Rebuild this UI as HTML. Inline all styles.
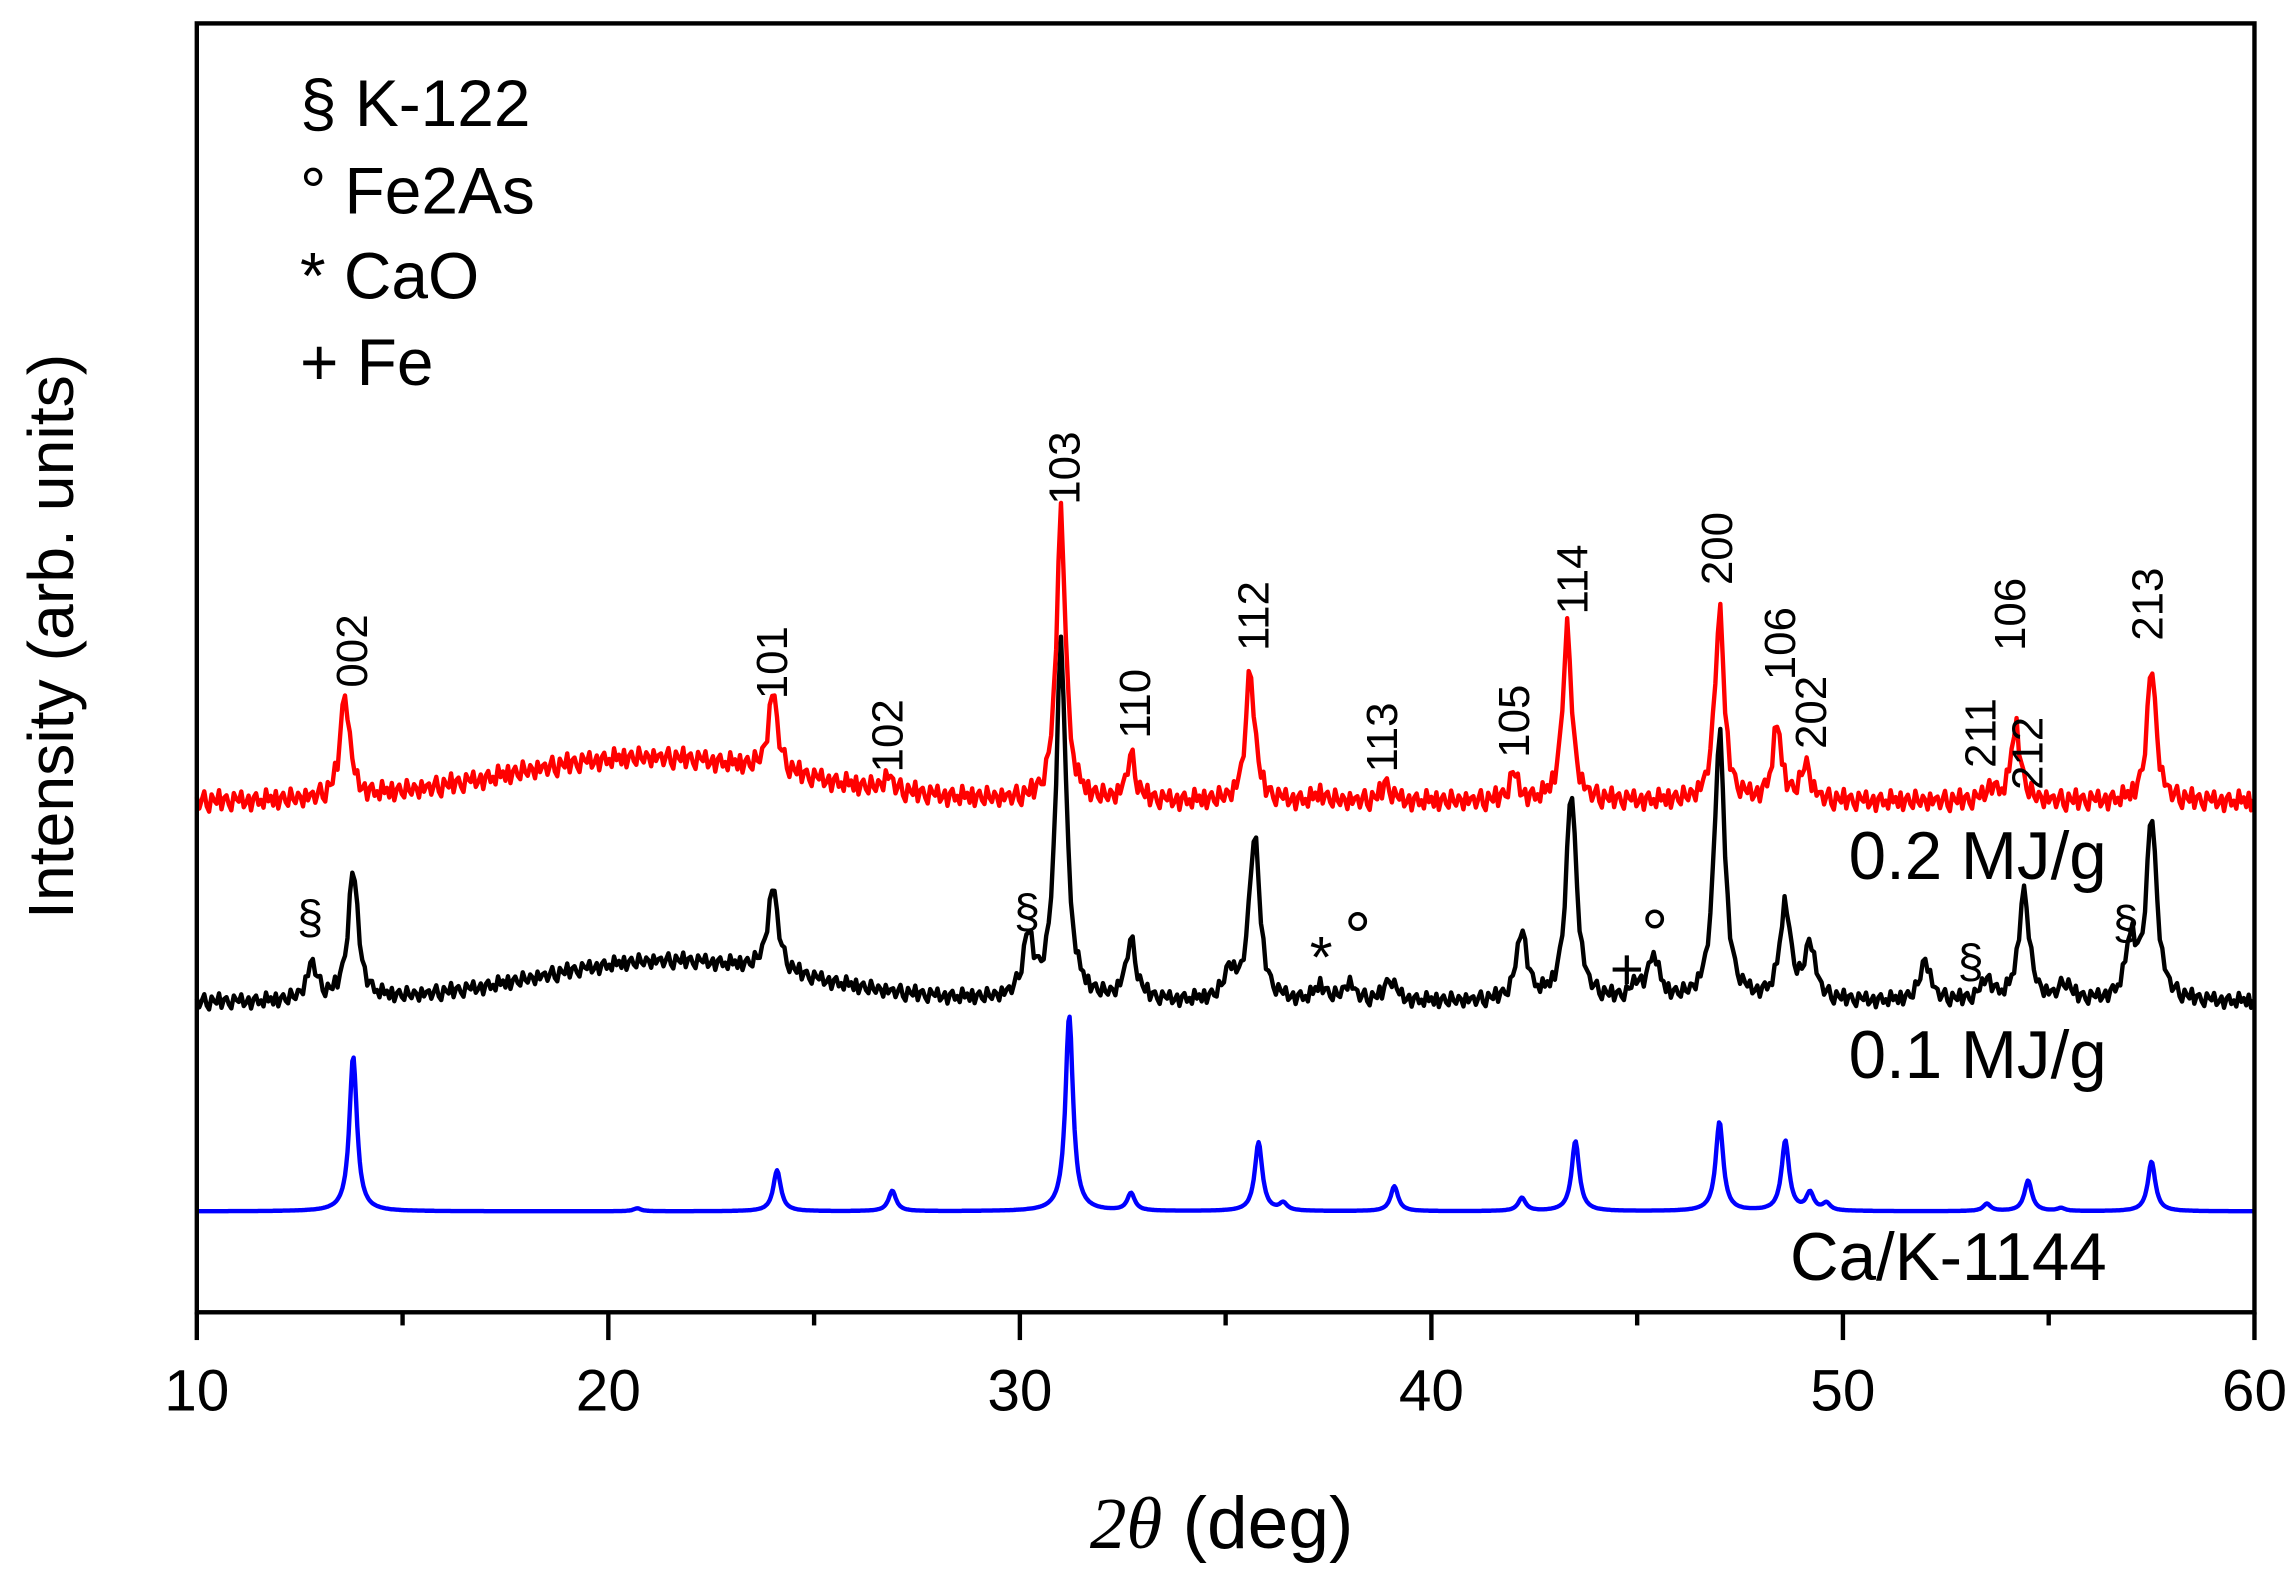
<!DOCTYPE html>
<html><head><meta charset="utf-8"><style>
html,body{margin:0;padding:0;background:#fff;}
svg{display:block;}
text{font-family:"Liberation Sans",Arial,sans-serif;}
</style></head><body>
<svg id="chart" width="2294" height="1580" viewBox="0 0 1568 1080" xmlns="http://www.w3.org/2000/svg">
<rect width="1568" height="1080" fill="#fff"/>
<g id="series"></g>
<rect x="134.5" y="16" width="1406.5" height="881" fill="none" stroke="#000" stroke-width="3"/>
<g id="xticks"></g>
<g id="labels"></g>
<g font-size="45">
<text x="205" y="86">§ K-122</text>
<text x="205" y="146">° Fe2As</text>
<text x="205" y="204">* CaO</text>
<text x="205" y="263">+ Fe</text>
</g>
<g font-size="46" text-anchor="end">
<text x="1440" y="601">0.2 MJ/g</text>
<text x="1440" y="737">0.1 MJ/g</text>
<text x="1440" y="875">Ca/K-1144</text>
</g>
<text font-size="44" text-anchor="middle" transform="translate(50,435) rotate(-90)">Intensity (arb. units)</text>
<text font-size="50" text-anchor="middle" x="835" y="1058"><tspan font-family="Liberation Serif,serif" font-style="italic">2θ</tspan> (deg)</text>
</svg>
<script>
// x axis
const xTicks=[10,20,30,40,50,60];
const X0=134.5,X1=1541,YB=897;
function xs(v){return X0+(v-10)/50*(X1-X0);}
function ys(v){return YB-v;}
// Ca/K-1144 (blue) peaks
const bluePos=[13.8,20.7,24.1,26.9,31.2,32.7,35.8,36.4,39.1,42.2,43.5,47.0,48.6,49.2,49.6,53.5,54.5,55.3,57.5];
const blueHt=[106,2,28,14,134,12,47,5,17,9,48,61,48,12,5,5,21,2,34];
const blueBase=69;
// 0.1 MJ/g (black) peaks
const blackPos=[12.8,13.8,24.0,30.2,31.0,32.7,35.1,35.7,37.3,38.0,39.0,42.2,43.4,45.0,45.4,47.0,48.6,49.2,52.0,53.5,54.4,55.4,57.0,57.5];
const blackHt=[25,87,58,40,245,40,20,115,10,12,15,48,143,10,30,185,65,38,28,15,75,12,40,125];
const blackBase=212;
const blackHump=[21.5,28,3.2];
// 0.2 MJ/g (red) peaks
const redPos=[13.6,24.0,26.8,31.0,32.7,35.6,37.3,38.9,42.0,43.3,47.0,48.4,49.1,53.6,54.2,57.5];
const redHt=[72,55,10,200,30,90,5,12,18,118,133,50,25,10,52,93];
const redBase=349;
const redHump=[21,30,3.5];
const jitter=[1.2,-2.1,0.4,2.8,-1.5,-3.0,1.9,0.2,-0.8,3.1,-2.4,0.9,1.6,-1.1,-2.7,2.2,0.5,-0.3,2.6,-1.9,-0.6,1.4,-2.9,0.8,2.0,-1.3,0.1,-2.2,3.0,-0.4,1.1,-1.7,2.4,-2.6,0.6,1.8,-0.9,-2.0,2.9,-0.2,-1.4,1.5,0.3,-2.5,2.1,-1.0,0.7];

const NS='http://www.w3.org/2000/svg';
function curve(pos,ht,base,w,hump,noise,step,color,name){
  let d='';
  const n=Math.round(50/step);
  for(let i=0;i<=n;i++){
    const x=10+i*step;
    let v=base;
    if(hump){v+=hump[1]*Math.exp(-Math.pow((x-hump[0])/hump[2],2)/2);}
    for(let k=0;k<pos.length;k++){
      const t=(x-pos[k])/w; v+=ht[k]/(1+t*t);
    }
    v+=noise*jitter[i%jitter.length];
    d+=(i?'L':'M')+xs(x).toFixed(1)+' '+ys(v).toFixed(1);
  }
  const p=document.createElementNS(NS,'path');
  p.setAttribute('d',d);p.setAttribute('fill','none');p.setAttribute('stroke',color);p.setAttribute('stroke-width','3');p.setAttribute('stroke-linejoin','round');
  
  
  document.getElementById('series').appendChild(p);
}
curve(bluePos,blueHt,blueBase,0.11,null,0,0.03,'#0000ff','series-ca-k-1144');
curve(blackPos,blackHt,blackBase,0.15,blackHump,1.8,0.06,'#000000','series-0-1-mj');
curve(redPos,redHt,redBase,0.13,redHump,2.4,0.06,'#ff0000','series-0-2-mj');

const gx=document.getElementById('xticks');
for(let v=10;v<=60;v+=5){
  const l=document.createElementNS(NS,'line');
  l.setAttribute('x1',xs(v));l.setAttribute('x2',xs(v));l.setAttribute('y1',YB);l.setAttribute('y2',YB+(v%10===0?19:9));
  l.setAttribute('stroke','#000');l.setAttribute('stroke-width','3');
  
  
  gx.appendChild(l);
}
xTicks.forEach(v=>{
  const t=document.createElementNS(NS,'text');
  t.setAttribute('x',xs(v));t.setAttribute('y',YB+67);t.setAttribute('text-anchor','middle');t.setAttribute('font-size','40');
  t.textContent=v;
  
  
  gx.appendChild(t);
});

const peakLabels=[['002',240,470],['101',527,478],['102',606,528],['103',727,345],['110',775,505],['112',856,445],['113',944,528],['105',1034,518],['114',1074,420],['200',1173,400],['106',1216,465],['202',1237,512],['211',1353,525],['106',1373,445],['212',1385,540],['213',1467,438]];
const gl=document.getElementById('labels');
peakLabels.forEach(a=>{
  const t=document.createElementNS(NS,'text');
  t.setAttribute('font-size','30');
  t.setAttribute('transform','translate('+(a[1]+11)+','+a[2]+') rotate(-90)');
  t.textContent=a[0];
  
  
  gl.appendChild(t);
});
const markers=[['§',212,638],['§',702,634],['§',1347,668],['§',1453,642],['*',903,668],['°',928,656],['+',1112,676],['°',1131,654]];
markers.forEach(a=>{
  const t=document.createElementNS(NS,'text');
  t.setAttribute('font-size', a[0]==='°'?'46':(a[0]==='§'?'32':'40'));
  t.setAttribute('x',a[1]);t.setAttribute('y',a[2]);t.setAttribute('text-anchor','middle');
  t.textContent=a[0];
  
  
  gl.appendChild(t);
});
</script>
</body></html>
